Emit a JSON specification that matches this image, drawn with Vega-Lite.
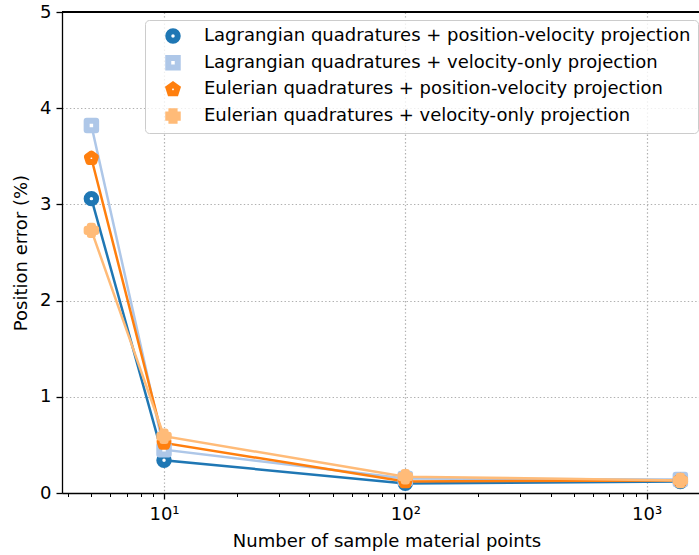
{
  "$schema": "https://vega.github.io/schema/vega-lite/v6.json",
  "autosize": {"type": "none"},
  "padding": {"left": 62, "top": 12, "right": 0, "bottom": 62},
  "width": 637,
  "height": 481,
  "background": "white",
  "config": {
    "view": {"stroke": null},
    "font": "DejaVu Sans",
    "axis": {
      "domainColor": "black",
      "domainWidth": 1.3,
      "tickColor": "black",
      "tickWidth": 1.3,
      "labelFont": "DejaVu Sans",
      "labelFontSize": 18,
      "labelColor": "black",
      "titleFont": "DejaVu Sans",
      "titleFontSize": 18,
      "titleFontWeight": "normal",
      "titleColor": "black",
      "gridColor": "#b0b0b0",
      "gridDash": [1.4, 2.3],
      "gridWidth": 1.2
    },
    "legend": {
      "labelFont": "DejaVu Sans",
      "labelFontSize": 18,
      "labelColor": "black",
      "labelLimit": 1000
    }
  },
  "data": {
    "values": [
      {"n": 5, "err": 3.06, "method": "Lagrangian quadratures + position-velocity projection"},
      {"n": 10, "err": 0.34, "method": "Lagrangian quadratures + position-velocity projection"},
      {"n": 100, "err": 0.10, "method": "Lagrangian quadratures + position-velocity projection"},
      {"n": 1380, "err": 0.12, "method": "Lagrangian quadratures + position-velocity projection"},
      {"n": 5, "err": 3.82, "method": "Lagrangian quadratures + velocity-only projection"},
      {"n": 10, "err": 0.45, "method": "Lagrangian quadratures + velocity-only projection"},
      {"n": 100, "err": 0.15, "method": "Lagrangian quadratures + velocity-only projection"},
      {"n": 1380, "err": 0.14, "method": "Lagrangian quadratures + velocity-only projection"},
      {"n": 5, "err": 3.48, "method": "Eulerian quadratures + position-velocity projection"},
      {"n": 10, "err": 0.52, "method": "Eulerian quadratures + position-velocity projection"},
      {"n": 100, "err": 0.12, "method": "Eulerian quadratures + position-velocity projection"},
      {"n": 1380, "err": 0.13, "method": "Eulerian quadratures + position-velocity projection"},
      {"n": 5, "err": 2.73, "method": "Eulerian quadratures + velocity-only projection"},
      {"n": 10, "err": 0.59, "method": "Eulerian quadratures + velocity-only projection"},
      {"n": 100, "err": 0.17, "method": "Eulerian quadratures + velocity-only projection"},
      {"n": 1380, "err": 0.13, "method": "Eulerian quadratures + velocity-only projection"}
    ]
  },
  "encoding": {
    "x": {
      "field": "n",
      "type": "quantitative",
      "scale": {"type": "log", "domain": [3.777, 1649], "nice": false, "zero": false},
      "axis": {
        "title": "Number of sample material points",
        "titleX": 324.5,
        "titlePadding": 9,
        "values": [4, 5, 6, 7, 8, 9, 10, 20, 30, 40, 50, 60, 70, 80, 90, 100, 200, 300, 400, 500, 600, 700, 800, 900, 1000],
        "labelExpr": "datum.value == 10 ? '10¹' : datum.value == 100 ? '10²' : datum.value == 1000 ? '10³' : ''",
        "labelOverlap": false,
        "labelPadding": 6,
        "labelFlush": false,
        "tickSize": {"condition": {"test": "datum.value == 10 || datum.value == 100 || datum.value == 1000", "value": 6}, "value": 3.5},
        "tickWidth": {"condition": {"test": "datum.value == 10 || datum.value == 100 || datum.value == 1000", "value": 1.3}, "value": 1},
        "gridOpacity": {"condition": {"test": "datum.value == 10 || datum.value == 100 || datum.value == 1000", "value": 1}, "value": 0},
        "grid": true
      }
    },
    "y": {
      "field": "err",
      "type": "quantitative",
      "scale": {"domain": [0, 5], "nice": false},
      "axis": {
        "title": "Position error (%)",
        "values": [0, 1, 2, 3, 4, 5],
        "tickSize": 6,
        "labelPadding": 5,
        "titlePadding": 9,
        "grid": true
      }
    }
  },
  "layer": [
    {
      "mark": {"type": "rule", "color": "black", "strokeWidth": 1.3},
      "encoding": {"y": {"datum": 5}, "x": null}
    },
    {
      "mark": {"type": "line", "strokeWidth": 2.5, "clip": true},
      "encoding": {
        "stroke": {
          "field": "method",
          "type": "nominal",
          "sort": [
            "Lagrangian quadratures + position-velocity projection",
            "Lagrangian quadratures + velocity-only projection",
            "Eulerian quadratures + position-velocity projection",
            "Eulerian quadratures + velocity-only projection"
          ],
          "scale": {"range": ["#1f77b4", "#aec7e8", "#ff7f0e", "#ffbb78"]},
          "legend": null
        },
        "order": {"field": "n", "type": "quantitative"}
      }
    },
    {
      "mark": {"type": "point", "filled": false, "fill": "white", "strokeWidth": 6, "opacity": 1, "size": 90, "strokeJoin": "round"},
      "encoding": {
        "color": {
          "field": "method",
          "type": "nominal",
          "scale": {
            "domain": [
              "Lagrangian quadratures + position-velocity projection",
              "Lagrangian quadratures + velocity-only projection",
              "Eulerian quadratures + position-velocity projection",
              "Eulerian quadratures + velocity-only projection"
            ],
            "range": ["#1f77b4", "#aec7e8", "#ff7f0e", "#ffbb78"]
          },
          "legend": {
            "title": null,
            "orient": "none",
            "legendX": 83,
            "legendY": 8,
            "padding": 7,
            "symbolOffset": 12,
            "labelOffset": 22,
            "rowPadding": 8.7,
            "clipHeight": 18,
            "symbolSize": 90,
            "symbolStrokeWidth": 6,
            "symbolFillColor": "white",
            "strokeColor": "#cccccc",
            "fillColor": "rgba(255,255,255,0.8)",
            "cornerRadius": 4
          }
        },
        "shape": {
          "field": "method",
          "type": "nominal",
          "scale": {
            "domain": [
              "Lagrangian quadratures + position-velocity projection",
              "Lagrangian quadratures + velocity-only projection",
              "Eulerian quadratures + position-velocity projection",
              "Eulerian quadratures + velocity-only projection"
            ],
            "range": [
              "circle",
              "square",
              "M0,-1L0.951,-0.309L0.588,0.809L-0.588,0.809L-0.951,-0.309Z",
              "M-0.333,-1L0.333,-1L0.333,-0.333L1,-0.333L1,0.333L0.333,0.333L0.333,1L-0.333,1L-0.333,0.333L-1,0.333L-1,-0.333L-0.333,-0.333Z"
            ]
          }
        }
      }
    }
  ]
}
